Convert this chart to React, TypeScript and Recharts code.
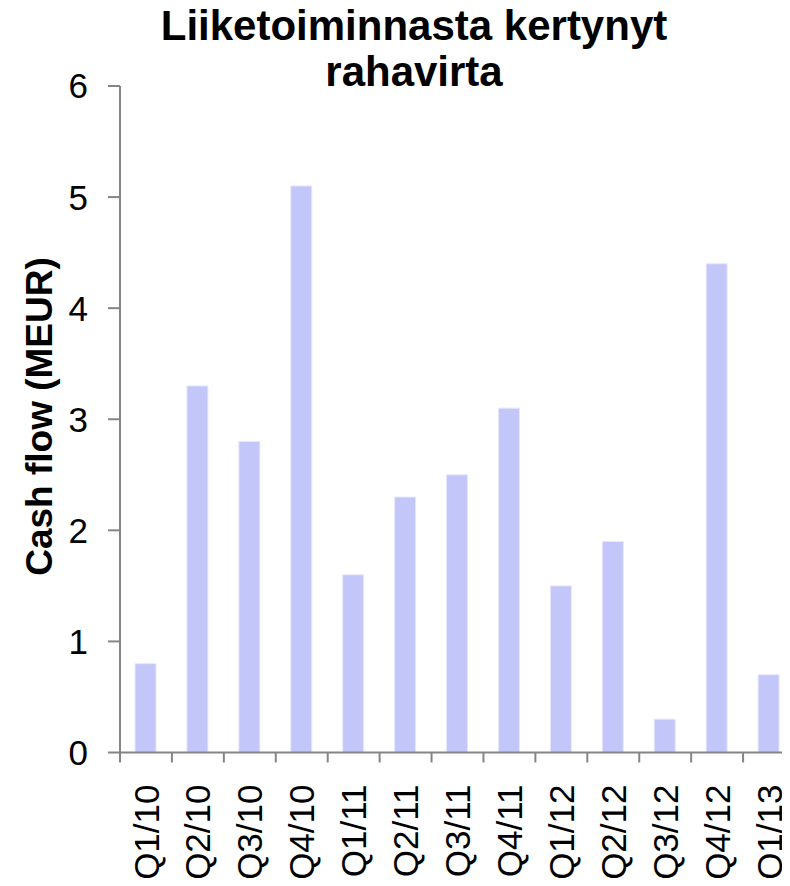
import React from 'react';
import { BarChart, Bar, XAxis, YAxis } from 'recharts';

const CATEGORIES = ['Q1/10', 'Q2/10', 'Q3/10', 'Q4/10', 'Q1/11', 'Q2/11', 'Q3/11', 'Q4/11', 'Q1/12', 'Q2/12', 'Q3/12', 'Q4/12', 'Q1/13'];
const VALUES = [0.8, 3.3, 2.8, 5.1, 1.6, 2.3, 2.5, 3.1, 1.5, 1.9, 0.3, 4.4, 0.7];
const Y_TICKS = [0, 1, 2, 3, 4, 5, 6];
const TITLE_LINES = ['Liiketoiminnasta kertynyt', 'rahavirta'];
const Y_LABEL = 'Cash flow (MEUR)';

const data = CATEGORIES.map((c, i) => ({ name: c, value: VALUES[i] }));

const FONT = '"Liberation Sans", Arial, Helvetica, sans-serif';
const AXIS_COLOR = '#858585';

const XTick = (props: any) => {
  const { x, y, payload, width } = props;
  const half =
    payload && typeof payload.offset === 'number' && payload.offset > 0
      ? payload.offset
      : width / CATEGORIES.length / 2;
  const ty = y + 32;
  return (
    <g>
      <line x1={x - half} x2={x - half} y1={y} y2={y + 10} stroke={AXIS_COLOR} strokeWidth={2} />
      <text
        x={x}
        y={ty}
        transform={`rotate(-90, ${x}, ${ty})`}
        textAnchor="end"
        dy="0.36em"
        fontFamily={FONT}
        fontSize={35}
        fill="#000"
      >
        {payload.value}
      </text>
    </g>
  );
};

export default function App() {
  return (
    <div style={{ position: 'relative', width: 790, height: 886, margin: -8, overflow: 'hidden', fontFamily: FONT }}>
      <BarChart width={800} height={886} data={data} margin={{ top: 86, right: 5, left: 0, bottom: 0 }}>
        <XAxis
          dataKey="name"
          height={133.5}
          axisLine={{ stroke: AXIS_COLOR, strokeWidth: 2 }}
          tickLine={false}
          tickSize={0}
          tickMargin={0}
          interval={0}
          tick={<XTick />}
        />
        <YAxis
          width={120}
          domain={[0, 6]}
          ticks={Y_TICKS}
          interval={0}
          axisLine={{ stroke: AXIS_COLOR, strokeWidth: 2 }}
          tickLine={{ stroke: AXIS_COLOR, strokeWidth: 2 }}
          tickSize={12}
          tickMargin={20}
          tick={{ fontFamily: FONT, fontSize: 35, fill: '#000' }}
        />
        <Bar dataKey="value" fill="#c3c6f8" stroke="#e6e8fd" strokeWidth={1} barSize={21} isAnimationActive={false} />
      </BarChart>
      <svg
        width={790}
        height={886}
        style={{ position: 'absolute', left: 0, top: 0, pointerEvents: 'none' }}
      >
        <text x={414} y={40} textAnchor="middle" fontFamily={FONT} fontWeight="bold" fontSize={42} fill="#000">
          {TITLE_LINES[0]}
        </text>
        <text x={414} y={86} textAnchor="middle" fontFamily={FONT} fontWeight="bold" fontSize={42} fill="#000">
          {TITLE_LINES[1]}
        </text>
        <text
          x={52}
          y={416.5}
          transform="rotate(-90, 52, 416.5)"
          textAnchor="middle"
          fontFamily={FONT}
          fontWeight="bold"
          fontSize={37}
          fill="#000"
        >
          {Y_LABEL}
        </text>
      </svg>
    </div>
  );
}
